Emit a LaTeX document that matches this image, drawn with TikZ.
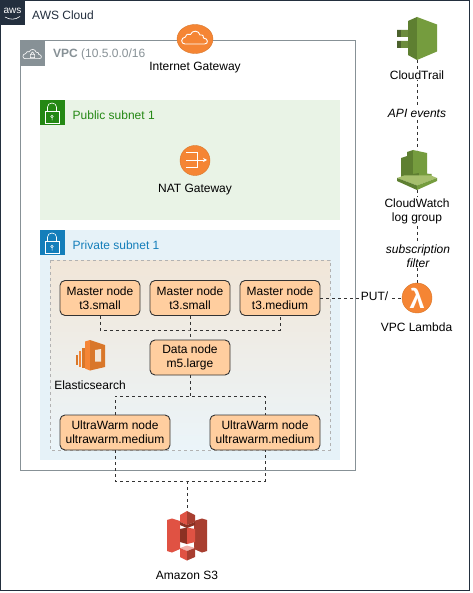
\documentclass[tikz,border=0pt]{standalone}
\usepackage{fontspec}
\setmainfont{Liberation Sans}
\usetikzlibrary{positioning,shapes.geometric,arrows.meta}
\definecolor{awsdark}{HTML}{232F3E}
\definecolor{vpcgray}{HTML}{879196}
\definecolor{pubgreen}{HTML}{248814}
\definecolor{pubfill}{HTML}{E9F3E6}
\definecolor{privblue}{HTML}{147EBA}
\definecolor{privfill}{HTML}{E6F2F8}
\definecolor{nodefill}{HTML}{FFCE9F}
\definecolor{awsorange}{HTML}{F58534}
\definecolor{leafA}{HTML}{759C3E}
\definecolor{leafB}{HTML}{5E7F31}
\definecolor{leafC}{HTML}{4B612C}
\definecolor{leafD}{HTML}{A6BF6D}
\definecolor{redA}{HTML}{E05243}
\definecolor{redB}{HTML}{A83E30}
\definecolor{redC}{HTML}{8C3123}
\definecolor{redD}{HTML}{F2B0A9}
\definecolor{esA}{HTML}{F58536}
\definecolor{esB}{HTML}{D9772A}
\definecolor{estop}{HTML}{F1E6D8}
\newcommand{\lockmark}[2]{%
  \draw[white, line width=0.6pt] (#1+5,#2+11.5) rectangle (#1+19,#2+23);
  \draw[white, line width=0.6pt] (#1+7.5,#2+11.5) -- (#1+7.5,#2+7) arc[start angle=180, end angle=360, x radius=4.5, y radius=4] -- (#1+16.5,#2+11.5);
  \draw[white, line width=0.5pt] (#1+12,#2+16.5) circle (1.2) (#1+12,#2+17.7) -- (#1+12,#2+20.5);
}
\newcommand{\cloudmark}{(-10,6.5) .. controls (-14.5,6.5) and (-14.5,0) .. (-9.5,-0.5) .. controls (-9,-3.5) and (-6,-4) .. (-4.5,-3) .. controls (-3,-7.5) and (4,-7.5) .. (5,-2.5) .. controls (8,-3) and (9,-1) .. (8.5,0.5) .. controls (13.5,1) and (13.5,6.5) .. (9.5,6.5) -- cycle}
\begin{document}
\begin{tikzpicture}
[x=1pt, y=-1pt, node distance=90pt, font=\fontsize{12}{14}\selectfont]
\tikzstyle{boxnode}=[rectangle, rounded corners=5pt, draw=black!80, line width=0.9pt, fill=nodefill, align=center, minimum height=35pt, inner sep=1pt]
\tikzstyle{master}=[boxnode, minimum width=80pt]
\tikzstyle{warm}=[boxnode, minimum width=110pt]
\tikzstyle{icon}=[inner sep=0pt, outer sep=0pt, minimum width=40pt]
\tikzstyle{badge}=[inner sep=0pt, outer sep=0pt, fill=awsorange, draw=esB, line width=0.4pt]
\tikzstyle{lbl}=[inner sep=1pt, align=center]
\tikzstyle{tag}=[lbl, anchor=west]
\tikzstyle{link}=[dashed, dash pattern=on 3pt off 3pt, line width=0.9pt, black!80]
\useasboundingbox (0,0) rectangle (472,593);
\fill[white] (0,0) rectangle (472,593);

% groups
\draw[awsdark, line width=1pt] (0.5,0.5) rectangle (469.5,590.5);
\fill[awsdark] (0,0) rectangle (25,25);
\node[lbl, white, font=\fontsize{10}{10}\selectfont] (awslogo) at (12.5,10.5) {aws};
\draw[white, line width=0.6pt] (5,17) .. controls (10,20) and (15,20) .. (20,16.5);
\node[tag, text=awsdark] (cloudname) at (31,15) {AWS Cloud};

\draw[vpcgray, line width=1pt] (20.5,41) rectangle (355.5,470);
\fill[vpcgray] (20,41) rectangle (45,66);
\begin{scope}[shift={(32.5,54)}, scale=0.72]
\draw[white, line width=0.6pt] \cloudmark;
\draw[white, line width=0.6pt] (-3,0.5) rectangle (3,5) (-1.8,0.5) -- (-1.8,-1) arc[start angle=180, end angle=360, radius=1.8] -- (1.8,0.5);
\end{scope}
\node[tag, text=vpcgray] (vpcname) at (52,54.5) {\textbf{VPC} (10.5.0.0/16};

\fill[pubfill] (40,100) rectangle (340,220);
\fill[pubgreen] (40,100) rectangle (65,125);
\lockmark{40}{100}
\node[tag, text=pubgreen] (pubname) at (71.5,115) {Public subnet 1};

\fill[privfill] (40,230) rectangle (340,460);
\fill[privblue] (40,230) rectangle (65,255);
\lockmark{40}{230}
\node[tag, text=privblue] (privname) at (71.5,245) {Private subnet 1};

\draw[black!30, dashed, dash pattern=on 3pt off 3pt, top color=estop, bottom color=privfill!80!white] (50,260) rectangle (330,450);

% gateways
\node[badge, ellipse, minimum width=36pt, minimum height=29pt] (igw) at (195,39) {};
\begin{scope}[shift={(195,37.5)}]
\draw[white, line width=0.9pt] \cloudmark;
\end{scope}
\node[lbl] (igwname) at (195,68) {Internet Gateway};
\node[badge, circle, minimum size=30pt] (nat) at (195,160.5) {};
\draw[white, line width=0.8pt] (186,152.5) -- (197,152.5) -- (197,167.5) -- (186,167.5);
\draw[white, line width=0.8pt, -{Stealth[length=4pt,width=4pt]}] (186,160) -- (207,160);
\node[lbl] (natname) at (195,190) {NAT Gateway};

% cluster nodes
\node[master] (M1) at (100,298) {Master node\\t3.small};
\node[master] (M2) [right of=M1] {Master node\\t3.small};
\node[master] (M3) [right of=M2] {Master node\\t3.medium};
\node[master] (D1) at (190,357.5) {Data node\\m5.large};
\node[warm] (W1) at (115,432.5) {UltraWarm node\\ultrawarm.medium};
\node[warm] (W2) at (265,432.5) {UltraWarm node\\ultrawarm.medium};
\coordinate (mbus) at (190,330);
\coordinate (dbus) at (190,396);
\coordinate (sbus) at (187,481);

% icons on the right and below
\node[icon, minimum height=43pt] (trail) at (417,38.5) {};
\fill[leafC] (397,30) rectangle (401,37) (397,41) rectangle (401,48);
\fill[leafB!80!leafD] (401,30) rectangle (408.3,37) (401,41) rectangle (408.3,48);
\fill[leafB] (408,21) -- (417,17) -- (417,60) -- (408,55) -- cycle;
\fill[leafA] (417,17) -- (437,24.5) -- (437,51.5) -- (417,60) -- cycle;

\node[icon, minimum height=40pt] (watch) at (417,170) {};
\fill[leafB] (401,158) -- (407,156) -- (407,180) -- (401,178) -- cycle;
\fill[leafB] (407,152) -- (413,150) -- (413,180) -- (407,180) -- cycle;
\fill[leafA] (413,150) -- (427,153) -- (427,178) -- (413,180) -- cycle;
\fill[leafB] (413,174) -- (419,173) -- (419,181) -- (413,181) -- cycle;
\fill[leafA] (419,173) -- (431.5,174) -- (431.5,180) -- (419,181) -- cycle;
\fill[leafD] (397,178) -- (404,175.5) -- (431,175.5) -- (437,178) -- (417,185.5) -- cycle;
\fill[leafB] (397,178) -- (417,185.5) -- (417,190) -- (397,181) -- cycle;
\fill[leafA] (437,178) -- (417,185.5) -- (417,190) -- (437,181) -- cycle;

\node[icon, minimum height=50pt] (bucket) at (187,535.5) {};
\fill[redA] (167,520) -- (172,518.5) -- (180,521) -- (180,549) -- (172,552.5) -- (167,551) -- cycle;
\fill[redB] (207,520) -- (202,518.5) -- (194,521) -- (194,549) -- (202,552.5) -- (207,551) -- cycle;
\fill[redC] (180,529) -- (187,527.5) -- (187,544) -- (180,542) -- cycle;
\fill[redA] (187,527.5) -- (195,529) -- (195,542) -- (187,544) -- cycle;
\fill[redA] (180,515) -- (187,511) -- (187,525) -- (180,522) -- cycle;
\fill[redB] (187,511) -- (195,515) -- (195,522) -- (187,525) -- cycle;
\fill[redC] (180,522) -- (187,525) -- (195,522) -- (195,525) -- (187,528) -- (180,525) -- cycle;
\fill[redD] (180,548) -- (187,545.5) -- (195,548) -- (187,551) -- cycle;
\fill[redA] (180,548) -- (187,551) -- (187,560.5) -- (180,557) -- cycle;
\fill[redB] (195,548) -- (187,551) -- (187,560.5) -- (195,557) -- cycle;

\node[icon, minimum width=30pt, minimum height=30pt] (esicon) at (90,355.5) {};
\fill[esB] (75.5,354.5) rectangle (78,364.5);
\fill[esA] (78.5,351) rectangle (81,366.5);
\fill[esB] (81.5,348) rectangle (84.5,368);
\fill[esA] (85,341.5) -- (90,340) -- (90,370.5) -- (85,368.5) -- cycle;
\fill[esB] (90,340) -- (105,345) -- (105,367) -- (90,370.5) -- cycle;
\fill[estop] (95,350) -- (101,349) -- (101,361.5) -- (95,361.5) -- cycle;

% connectors
\draw[link] (trail.south) -- (watch.north);
\draw[link] (watch.south) -- (417,283);
\draw[link] (M1.south) |- (mbus) -| (M3.south);
\draw[link] (M2.south) -- (D1.north);
\draw[link] (D1.south) -- (dbus);
\draw[link] (W1.north) |- (dbus) -| (W2.north);
\draw[link] (W1.south) |- (sbus) -| (W2.south);
\draw[link] (sbus) -- (bucket.north);
\draw[link] (M3.east) -- (402,298);

% lambda and the texts over the lines
\node[badge, circle, minimum size=30pt, text=white, text height=0pt, text depth=0pt, font=\fontsize{27}{27}\bfseries\selectfont] (lambda) at (417,298) {};
\node[lbl, white, font=\fontsize{27}{27}\bfseries\selectfont] (lambdaglyph) at (lambda.center) {λ};
\node[lbl] (lambdaname) at (416.5,327) {VPC Lambda};
\node[lbl, fill=white] (trailname) at (417,75) {CloudTrail};
\node[lbl, fill=white, font=\fontsize{12}{14}\itshape\selectfont] (apilabel) at (417,113) {API events};
\node[lbl, fill=white] (watchname) at (417,211) {CloudWatch\\log group};
\node[lbl, fill=white, font=\fontsize{12}{14}\itshape\selectfont] (sublabel) at (418,256) {subscription\\filter};
\node[lbl, fill=white] (putlabel) at (374.5,296) {PUT/};
\node[lbl] (esname) at (90,385) {Elasticsearch};
\node[lbl] (bucketname) at (187,575) {Amazon S3};
\end{tikzpicture}
\end{document}
